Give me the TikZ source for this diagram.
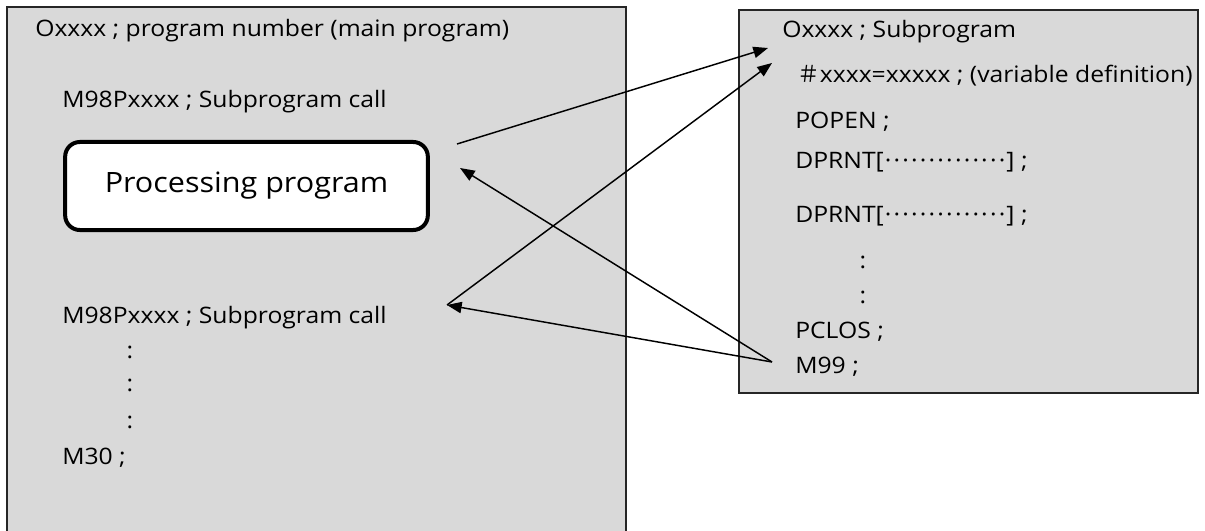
\documentclass[tikz,border=0pt]{standalone}
\usepackage{fontspec}
\setmainfont{Open Sans}[FakeStretch=1.09]
\newfontfamily\cjk{Noto Sans CJK JP}
\usetikzlibrary{arrows.meta}
\definecolor{boxgray}{HTML}{D9D9D9}
\tikzset{
  listing/.style={draw=black!85, line width=0.8pt, fill=boxgray},
  code/.style={anchor=base west, inner sep=0pt, font=\fontsize{17}{20}\selectfont},
  vdot/.style={anchor=base, inner sep=0pt, font=\fontsize{17}{20}\selectfont},
  procbox/.style={draw, fill=white, line width=3pt, rounded corners=11pt,
    minimum width=272pt, minimum height=66pt, font=\fontsize{21}{25}\selectfont},
  flow/.style={line width=1.1pt, -{Triangle[length=11pt,width=8.5pt]}},
}
% dotted filler inside DPRNT[ ]
\newcommand{\prdots}{\hbox to 92pt{\xleaders\hbox to 6.5pt{\hss·\hss}\hfill}}

\begin{document}
\begin{tikzpicture}[x=0.75pt,y=-0.75pt]
  \useasboundingbox (0,0) rectangle (1205,531);
  \clip (0,0) rectangle (1205,531);

  % main program
  \draw[listing] (7,7) rectangle (626,560);
  \node[code] (mainhead) at (35,37) {Oxxxx ; program number (main program)};
  \node[code] (call1) at (62,108) {M98Pxxxx ; Subprogram call};
  \node[procbox] (proc) at (246.5,186) {Processing program};
  \node[code] (call2) at (62,323) {M98Pxxxx ; Subprogram call};
  \node[vdot] (mdots1) at (130,358) {:};
  \node[vdot] (mdots2) at (130,391) {:};
  \node[vdot] (mdots3) at (130,428) {:};
  \node[code] (mainend) at (62,464) {M30 ;};

  % subprogram
  \draw[listing] (739,10) rectangle (1198,393);
  \node[code] (subhead) at (782,38) {Oxxxx ; Subprogram};
  \node[code] (vardef) at (797,83) {{\cjk ＃}xxxx=xxxxx ; (variable definition)};
  \node[code] (popen) at (795,128) {POPEN ;};
  \node[code] (dprnt1) at (795,168) {DPRNT[\prdots] ;};
  \node[code] (dprnt2) at (795,222) {DPRNT[\prdots] ;};
  \node[vdot] (sdots1) at (863,268) {:};
  \node[vdot] (sdots2) at (863,303) {:};
  \node[code] (pclos) at (795,338) {PCLOS ;};
  \node[code] (subend) at (795,373) {M99 ;};

  % arrow end points
  \coordinate (callout) at (457,144);
  \coordinate (subin) at (768,48);
  \coordinate (varin) at (772,63);
  \coordinate (back1) at (460,168);
  \coordinate (back2) at (447,305);
  \coordinate (retout) at (772,362);

  % calls and returns
  \draw[flow] (callout) -- (subin);
  \draw[flow] (back2) -- (varin);
  \draw[flow] (retout) -- (back1);
  \draw[flow] (retout) -- (back2);
\end{tikzpicture}
\end{document}
